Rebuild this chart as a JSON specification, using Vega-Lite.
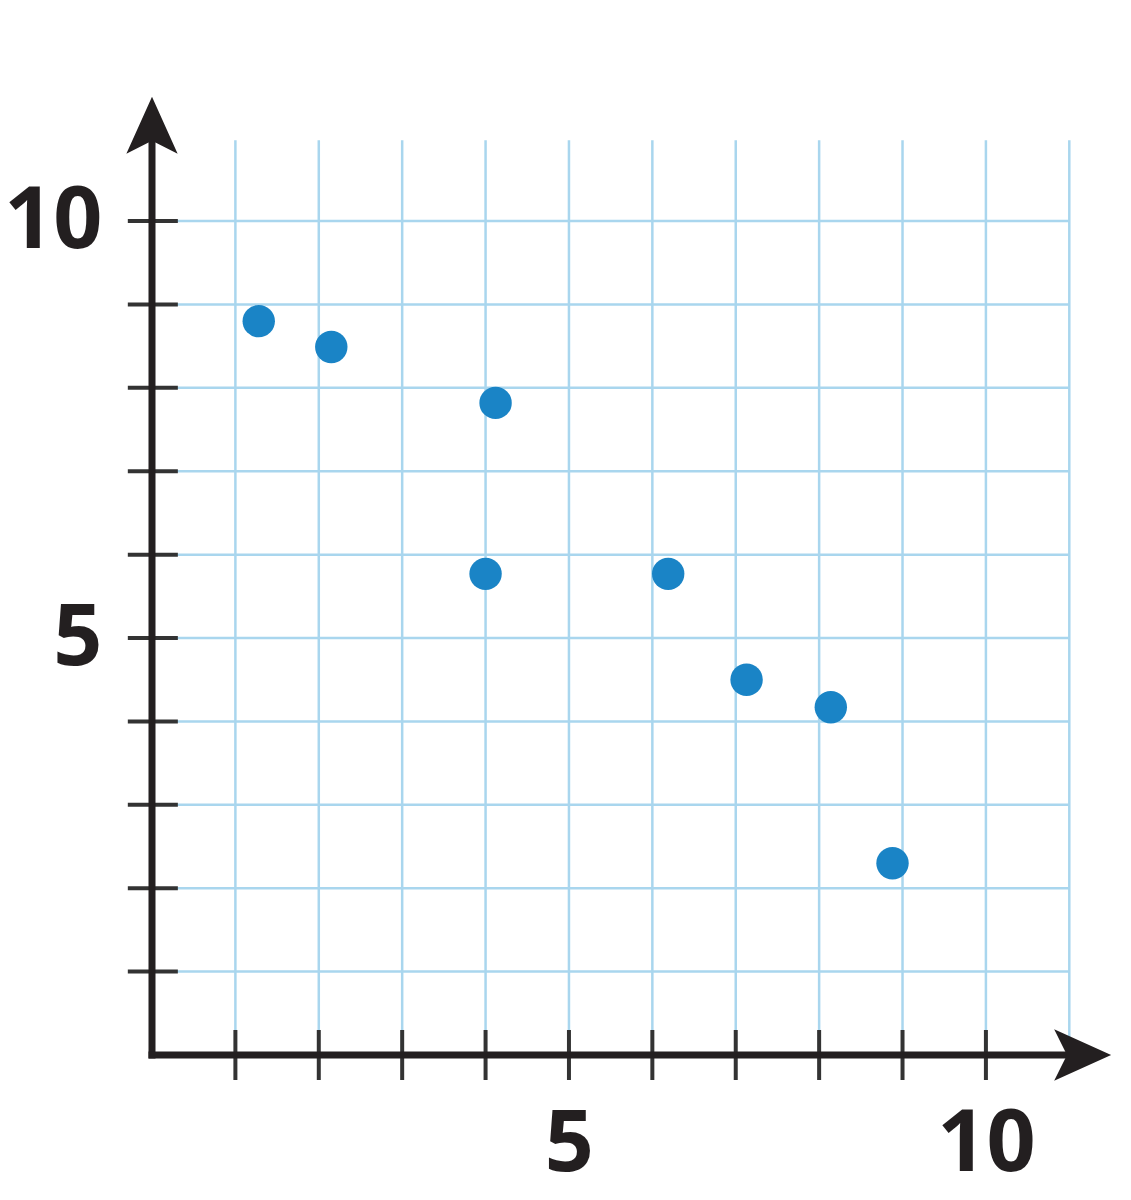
{
  "$schema": "https://vega.github.io/schema/vega-lite/v6.json",
  "width": 959,
  "height": 959,
  "autosize": "none",
  "padding": {"left": 152, "top": 96, "right": 20, "bottom": 145},
  "background": "white",
  "config": {
    "view": {"stroke": null},
    "axis": {
      "labelFont": "Open Sans",
      "labelFontWeight": "bold",
      "labelFontSize": 86,
      "labelColor": "#231f20",
      "domain": false,
      "ticks": false,
      "tickSize": 0,
      "grid": false,
      "title": null
    }
  },
  "datasets": {
    "vgrid": [
      {"x": 1, "y": 0, "y2": 10.97}, {"x": 2, "y": 0, "y2": 10.97},
      {"x": 3, "y": 0, "y2": 10.97}, {"x": 4, "y": 0, "y2": 10.97},
      {"x": 5, "y": 0, "y2": 10.97}, {"x": 6, "y": 0, "y2": 10.97},
      {"x": 7, "y": 0, "y2": 10.97}, {"x": 8, "y": 0, "y2": 10.97},
      {"x": 9, "y": 0, "y2": 10.97}, {"x": 10, "y": 0, "y2": 10.97},
      {"x": 11, "y": 0, "y2": 10.97}
    ],
    "hgrid": [
      {"y": 1, "x": 0, "x2": 11}, {"y": 2, "x": 0, "x2": 11},
      {"y": 3, "x": 0, "x2": 11}, {"y": 4, "x": 0, "x2": 11},
      {"y": 5, "x": 0, "x2": 11}, {"y": 6, "x": 0, "x2": 11},
      {"y": 7, "x": 0, "x2": 11}, {"y": 8, "x": 0, "x2": 11},
      {"y": 9, "x": 0, "x2": 11}, {"y": 10, "x": 0, "x2": 11}
    ],
    "yticks": [
      {"y": 1, "x": -0.29, "x2": 0.31}, {"y": 2, "x": -0.29, "x2": 0.31},
      {"y": 3, "x": -0.29, "x2": 0.31}, {"y": 4, "x": -0.29, "x2": 0.31},
      {"y": 5, "x": -0.29, "x2": 0.31}, {"y": 6, "x": -0.29, "x2": 0.31},
      {"y": 7, "x": -0.29, "x2": 0.31}, {"y": 8, "x": -0.29, "x2": 0.31},
      {"y": 9, "x": -0.29, "x2": 0.31}, {"y": 10, "x": -0.29, "x2": 0.31}
    ],
    "xticks": [
      {"x": 1, "y": -0.3, "y2": 0.3}, {"x": 2, "y": -0.3, "y2": 0.3},
      {"x": 3, "y": -0.3, "y2": 0.3}, {"x": 4, "y": -0.3, "y2": 0.3},
      {"x": 5, "y": -0.3, "y2": 0.3}, {"x": 6, "y": -0.3, "y2": 0.3},
      {"x": 7, "y": -0.3, "y2": 0.3}, {"x": 8, "y": -0.3, "y2": 0.3},
      {"x": 9, "y": -0.3, "y2": 0.3}, {"x": 10, "y": -0.3, "y2": 0.3}
    ],
    "axes": [
      {"x": 0, "y": 0, "x2": 0, "y2": 11.15},
      {"x": 0, "y": 0, "x2": 11.16, "y2": 0}
    ],
    "arrows": [
      {"x": 0, "y": 11.15, "dir": "up"},
      {"x": 11.16, "y": 0, "dir": "right"}
    ],
    "points": [
      {"x": 1.28, "y": 8.8},
      {"x": 2.15, "y": 8.49},
      {"x": 4.12, "y": 7.82},
      {"x": 4.0, "y": 5.77},
      {"x": 6.19, "y": 5.77},
      {"x": 7.13, "y": 4.5},
      {"x": 8.14, "y": 4.17},
      {"x": 8.88, "y": 2.3}
    ]
  },
  "encoding": {
    "x": {
      "field": "x",
      "type": "quantitative",
      "scale": {"domain": [0, 11.5]},
      "axis": {"values": [5, 10], "labelPadding": 47, "labelBaseline": "top"}
    },
    "y": {
      "field": "y",
      "type": "quantitative",
      "scale": {"domain": [0, 11.5]},
      "axis": {"values": [5, 10], "labelPadding": 50, "labelBaseline": "middle"}
    }
  },
  "layer": [
    {
      "data": {"name": "vgrid"},
      "mark": {"type": "rule", "color": "#a9d6ee", "strokeWidth": 2.5},
      "encoding": {"y2": {"field": "y2"}}
    },
    {
      "data": {"name": "hgrid"},
      "mark": {"type": "rule", "color": "#a9d6ee", "strokeWidth": 2.5},
      "encoding": {"x2": {"field": "x2"}}
    },
    {
      "data": {"name": "yticks"},
      "mark": {"type": "rule", "color": "#333333", "strokeWidth": 4},
      "encoding": {"x2": {"field": "x2"}}
    },
    {
      "data": {"name": "xticks"},
      "mark": {"type": "rule", "color": "#333333", "strokeWidth": 4},
      "encoding": {"y2": {"field": "y2"}}
    },
    {
      "data": {"name": "axes"},
      "mark": {"type": "rule", "color": "#231f20", "strokeWidth": 7, "strokeCap": "square"},
      "encoding": {"x2": {"field": "x2"}, "y2": {"field": "y2"}}
    },
    {
      "data": {"name": "arrows"},
      "mark": {"type": "point", "filled": true, "color": "#231f20", "size": 3249, "opacity": 1},
      "encoding": {
        "shape": {
          "field": "dir",
          "type": "nominal",
          "scale": {
            "domain": ["up", "right"],
            "range": ["M0,-1 L0.9,1 L0,0.55 L-0.9,1 Z", "M1,0 L-1,0.9 L-0.55,0 L-1,-0.9 Z"]
          },
          "legend": null
        }
      }
    },
    {
      "data": {"name": "points"},
      "mark": {"type": "circle", "color": "#1a84c6", "size": 1050, "opacity": 1},
      "encoding": {}
    }
  ]
}
